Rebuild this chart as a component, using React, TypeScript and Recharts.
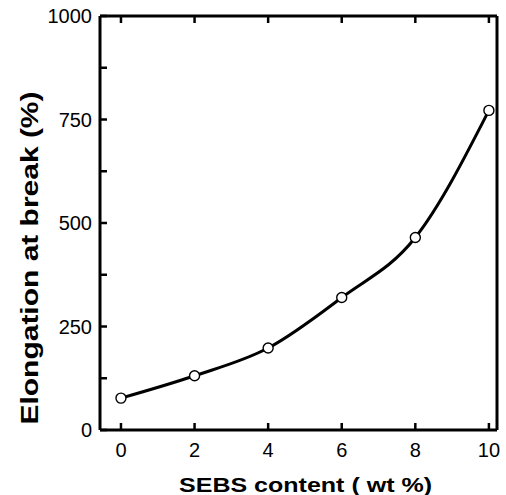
import { LineChart, Line, XAxis, YAxis } from "recharts";

const sebs = [0, 2, 4, 6, 8, 10];
const elongation = [77, 131, 198, 320, 465, 772];
const xTicks = [0, 2, 4, 6, 8, 10];
const yTicks = [0, 125, 250, 375, 500, 625, 750, 875, 1000];
const yLabelled = [0, 250, 500, 750, 1000];

const data = sebs.map((s, i) => ({ sebs: s, elongation: elongation[i] }));

const FONT = '"Liberation Sans", Arial, sans-serif';
const TICK_LEN = 7;

const BottomTick = (props: any) => {
  const { x, y, payload } = props;
  return (
    <g>
      <line x1={x} y1={y} x2={x} y2={y - TICK_LEN} stroke="#000" strokeWidth={2.5} />
      <text x={x} y={y + 27} textAnchor="middle" fontSize={20} fontFamily={FONT} fill="#000">
        {payload.value}
      </text>
    </g>
  );
};

const TopTick = (props: any) => {
  const { x, y } = props;
  return <line x1={x} y1={y} x2={x} y2={y + TICK_LEN} stroke="#000" strokeWidth={2.5} />;
};

const LeftTick = (props: any) => {
  const { x, y, payload } = props;
  const show = yLabelled.includes(payload.value);
  return (
    <g>
      <line x1={x} y1={y} x2={x + TICK_LEN} y2={y} stroke="#000" strokeWidth={2.5} />
      {show && (
        <text x={x - 8} y={y + 7} textAnchor="end" fontSize={20} fontFamily={FONT} fill="#000">
          {payload.value}
        </text>
      )}
    </g>
  );
};

const RightTick = (props: any) => {
  const { x, y } = props;
  return <line x1={x} y1={y} x2={x - TICK_LEN} y2={y} stroke="#000" strokeWidth={2.5} />;
};

export default function App() {
  return (
    <div style={{ position: "absolute", left: 0, top: 0, width: 506, height: 495, background: "#fff" }}>
      <LineChart width={506} height={495} data={data} margin={{ top: 15, right: 8, left: 0, bottom: 0 }}>
        <XAxis
          xAxisId="bottom"
          dataKey="sebs"
          type="number"
          domain={[-0.57, 10.22]}
          ticks={xTicks}
          allowDataOverflow
          height={65}
          tickSize={0}
          tickMargin={0}
          tickLine={false}
          tick={<BottomTick />}
          axisLine={{ stroke: "#000", strokeWidth: 3 }}
          label={{
            content: (p: any) => {
              const vb = p.viewBox;
              return (
                <text
                  x={vb.x + vb.width / 2 + 7}
                  y={vb.y + 62}
                  textAnchor="middle"
                  fontSize={20}
                  fontWeight="bold"
                  fontFamily={FONT}
                  textLength={253}
                  lengthAdjust="spacingAndGlyphs"
                  fill="#000"
                >
                  SEBS content ( wt %)
                </text>
              );
            },
          }}
        />
        <XAxis
          xAxisId="top"
          orientation="top"
          dataKey="sebs"
          type="number"
          domain={[-0.57, 10.22]}
          ticks={xTicks}
          allowDataOverflow
          height={1}
          tickSize={0}
          tickMargin={0}
          tickLine={false}
          tick={<TopTick />}
          axisLine={{ stroke: "#000", strokeWidth: 3 }}
        />
        <YAxis
          yAxisId="left"
          type="number"
          domain={[0, 1000]}
          ticks={yTicks}
          interval={0}
          width={100}
          tickSize={0}
          tickMargin={0}
          tickLine={false}
          tick={<LeftTick />}
          axisLine={{ stroke: "#000", strokeWidth: 3 }}
          label={{
            content: (p: any) => {
              const vb = p.viewBox;
              const cx = 38;
              const cy = vb.y + vb.height / 2 + 35;
              return (
                <text
                  x={cx}
                  y={cy}
                  transform={`rotate(-90, ${cx}, ${cy})`}
                  textAnchor="middle"
                  fontSize={24}
                  fontWeight="bold"
                  fontFamily={FONT}
                  textLength={333}
                  lengthAdjust="spacingAndGlyphs"
                  fill="#000"
                >
                  Elongation at break (%)
                </text>
              );
            },
          }}
        />
        <YAxis
          yAxisId="right"
          orientation="right"
          type="number"
          domain={[0, 1000]}
          ticks={yTicks}
          interval={0}
          width={1}
          tickSize={0}
          tickMargin={0}
          tickLine={false}
          tick={<RightTick />}
          axisLine={{ stroke: "#000", strokeWidth: 3 }}
        />
        <Line
          xAxisId="bottom"
          yAxisId="left"
          type="monotone"
          dataKey="elongation"
          stroke="#000"
          strokeWidth={3}
          dot={{ r: 5, fill: "#fff", stroke: "#000", strokeWidth: 1.4 }}
          isAnimationActive={false}
        />
      </LineChart>
    </div>
  );
}
